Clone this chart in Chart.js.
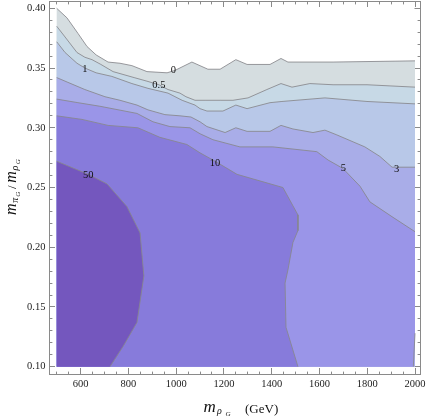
<!DOCTYPE html>
<html>
<head>
<meta charset="utf-8">
<style>
html,body{margin:0;padding:0;background:#ffffff;}
canvas{display:block;}
</style>
<script src="https://cdn.jsdelivr.net/npm/chart.js@4/dist/chart.umd.min.js"></script>
</head>
<body>
<canvas id="c" width="426" height="417"></canvas>
<script>
// ---- data ----
const xRange = [500, 2000];           // m_rhoG range of the computed grid (GeV)
const yRange = [0.10, 0.40];          // m_piG / m_rhoG range
const levels = ['0', '0.5', '1', '3', '5', '10', '50'];

const c0 = [[500,0.400],[543,0.392],[589,0.379],[627,0.368],[665,0.361],[715,0.355],[765,0.354],[815,0.352],[878,0.347],[962,0.346],[995,0.348],[1066,0.355],[1133,0.349],[1184,0.349],[1250,0.357],[1297,0.353],[1393,0.353],[1439,0.358],[1468,0.355],[1657,0.355],[2000,0.356]];
const c05 = [[500,0.385],[535,0.376],[585,0.363],[618,0.359],[648,0.357],[685,0.353],[736,0.347],[824,0.342],[878,0.339],[928,0.336],[966,0.332],[1016,0.329],[1041,0.326],[1079,0.323],[1121,0.323],[1184,0.323],[1238,0.323],[1301,0.325],[1380,0.332],[1439,0.337],[1485,0.334],[1560,0.337],[1657,0.336],[1799,0.336],[2000,0.334]];
const c1 = [[500,0.372],[535,0.363],[585,0.354],[618,0.350],[665,0.346],[731,0.343],[815,0.337],[882,0.333],[966,0.329],[1025,0.323],[1079,0.319],[1100,0.316],[1129,0.314],[1196,0.314],[1250,0.319],[1297,0.316],[1393,0.321],[1443,0.322],[1623,0.325],[1799,0.322],[2000,0.320]];
const c3 = [[500,0.342],[547,0.338],[618,0.332],[702,0.326],[765,0.323],[836,0.319],[882,0.315],[953,0.311],[1016,0.310],[1062,0.309],[1100,0.305],[1129,0.301],[1205,0.296],[1250,0.300],[1297,0.297],[1393,0.297],[1439,0.302],[1489,0.299],[1573,0.296],[1623,0.298],[1673,0.294],[1790,0.284],[1853,0.276],[1904,0.267],[2000,0.267]];
const c5 = [[500,0.324],[589,0.321],[681,0.318],[836,0.312],[903,0.305],[974,0.301],[1058,0.300],[1100,0.295],[1154,0.290],[1267,0.284],[1405,0.284],[1589,0.280],[1636,0.273],[1698,0.266],[1770,0.251],[1811,0.238],[1908,0.225],[2000,0.213]];
const c5b = [[2000,0.128],[1993,0.100]];
const c10 = [[500,0.310],[606,0.307],[715,0.302],[840,0.300],[932,0.292],[1045,0.286],[1100,0.279],[1163,0.272],[1255,0.261],[1447,0.250],[1510,0.227],[1510,0.214],[1489,0.204],[1468,0.181],[1456,0.170],[1460,0.133],[1510,0.100]];
const c50 = [[500,0.272],[632,0.261],[711,0.253],[794,0.234],[849,0.212],[865,0.176],[836,0.137],[778,0.117],[723,0.100]];

// contour labels
const labelText = ['0', '0.5', '1', '3', '5', '10', '50'];
const labelX = [988, 928, 618, 1923, 1700, 1163, 632];
const labelY = [0.3484, 0.3358, 0.3489, 0.2652, 0.2661, 0.2703, 0.2605];

// tick values
const xMajorTicks = [600, 800, 1000, 1200, 1400, 1600, 1800, 2000];
const yMajorTicks = [0.10, 0.15, 0.20, 0.25, 0.30, 0.35, 0.40];

// ---- styles ----
const regionColors = ['#d5dde0', '#c7d9e6', '#b8c8e8', '#a9ade8', '#9a95e8', '#877bdb', '#7457be'];
const lineColor = 'rgba(135,135,140,0.85)';
const frameColor = '#8a8a8a';
const serif = '"Liberation Serif", "Times New Roman", serif';

const toPts = arr => arr.map(p => ({x: p[0], y: p[1]}));
const bottomRight = [xRange[1], yRange[0]];
const bottomLeft = [xRange[0], yRange[0]];

const regions = [
  c0.concat([bottomRight, bottomLeft]),
  c05.concat([bottomRight, bottomLeft]),
  c1.concat([bottomRight, bottomLeft]),
  c3.concat([bottomRight, bottomLeft]),
  c5.concat(c5b, [bottomLeft]),
  c10.concat([bottomLeft]),
  c50.concat([bottomLeft])
];
const contours = [c0, c05, c1, c3, c5, c5b, c10, c50];

const datasets = [];
regions.forEach((poly, i) => {
  datasets.push({
    label: 'level ≥ ' + levels[i],
    data: toPts(poly),
    fill: 'shape',
    backgroundColor: regionColors[i],
    borderColor: 'rgba(0,0,0,0)',
    borderWidth: 0,
    pointRadius: 0,
    tension: 0,
    order: 50 - i
  });
});
contours.forEach((c, i) => {
  datasets.push({
    label: 'contour ' + i,
    data: toPts(c),
    fill: false,
    borderColor: lineColor,
    borderWidth: 1,
    pointRadius: 0,
    tension: 0,
    order: 1
  });
});

// axis extents (frame padding around the grid range, as in the picture)
const xMin = 467.8, xMax = 2023;
const yMin = 0.09389, yMax = 0.40611;

const isXMajor = v => xMajorTicks.some(t => Math.abs(t - v) < 1e-6);
const isYMajor = v => yMajorTicks.some(t => Math.abs(t - v) < 1e-6);

function makeScale(axis, position, size) {
  const horizontal = axis === 'x';
  const major = horizontal ? isXMajor : isYMajor;
  // ticks drawn inward; for left/top the tick line starts inside the frame
  const startsInside = (position === 'left' || position === 'top');
  return {
    type: 'linear',
    position: position,
    min: horizontal ? xMin : yMin,
    max: horizontal ? xMax : yMax,
    bounds: 'ticks',
    border: {display: true, color: frameColor, width: 1},
    grid: {
      drawOnChartArea: false,
      drawTicks: true,
      tickLength: -6,
      tickColor: frameColor,
      tickWidth: 1,
      tickBorderDash: ctx => {
        if (!ctx.tick || major(ctx.tick.value)) return [];
        return startsInside ? [0, 2.6, 3.4, 40] : [3.4, 40];
      }
    },
    ticks: {
      stepSize: horizontal ? 50 : 0.01,
      autoSkip: false,
      includeBounds: false,
      maxRotation: 0,
      minRotation: 0,
      font: {family: serif, size: 10.5},
      color: '#222',
      callback: () => ''
    },
    afterFit: s => {
      if (horizontal) { s.height = size; } else { s.width = size; }
      s.paddingTop = 0; s.paddingBottom = 0; s.paddingLeft = 0; s.paddingRight = 0;
    }
  };
}

const scales = {
  x: makeScale('x', 'bottom', 43),
  x2: makeScale('x', 'top', 1),
  y: makeScale('y', 'left', 49),
  y2: makeScale('y', 'right', 5.5)
};
scales.x.ticks.padding = 10.0;
scales.x.ticks.callback = v => isXMajor(v) ? String(Math.round(v)) : '';
scales.y.ticks.padding = 9.6;
scales.y.ticks.callback = v => isYMajor(v) ? v.toFixed(2) : '';

const textPlugin = {
  id: 'contourText',
  afterDatasetsDraw(chart) {
    const {ctx} = chart;
    const xs = chart.scales.x, ys = chart.scales.y;
    ctx.save();
    ctx.font = '10.5px ' + serif;
    ctx.fillStyle = '#111';
    ctx.textAlign = 'center';
    ctx.textBaseline = 'middle';
    labelText.forEach((t, i) => {
      ctx.fillText(t, xs.getPixelForValue(labelX[i]), ys.getPixelForValue(labelY[i]));
    });
    ctx.restore();
  },
  afterDraw(chart) {
    const {ctx} = chart;
    ctx.save();
    ctx.fillStyle = '#111';
    ctx.textAlign = 'left';
    ctx.textBaseline = 'alphabetic';
    // x axis title: m_{rho_G} (GeV)
    ctx.font = 'italic 17px ' + serif; ctx.fillText('m', 203.5, 411.7);
    ctx.font = 'italic 10px ' + serif; ctx.fillText('ρ', 217, 413.5);
    ctx.font = 'italic 7px ' + serif;  ctx.fillText('G', 225.5, 416.3);
    ctx.font = '13px ' + serif;        ctx.fillText('(GeV)', 245, 412.6);
    // y axis title: m_{pi_G} / m_{rho_G}
    ctx.translate(15.8, 215);
    ctx.rotate(-Math.PI / 2);
    ctx.font = 'italic 16px ' + serif; ctx.fillText('m', 0, 0);
    ctx.font = 'italic 10px ' + serif; ctx.fillText('π', 12.3, 2);
    ctx.font = 'italic 7px ' + serif;  ctx.fillText('G', 18.3, 4.4);
    ctx.font = '13px ' + serif;        ctx.fillText('/', 26, 0);
    ctx.font = 'italic 16px ' + serif; ctx.fillText('m', 32.3, 0);
    ctx.font = 'italic 10px ' + serif; ctx.fillText('ρ', 44.5, 2);
    ctx.font = 'italic 7px ' + serif;  ctx.fillText('G', 50.8, 4.4);
    ctx.restore();
  }
};

new Chart(document.getElementById('c'), {
  type: 'line',
  data: {datasets: datasets},
  options: {
    responsive: false,
    animation: false,
    devicePixelRatio: 1,
    layout: {padding: 0},
    plugins: {
      legend: {display: false},
      tooltip: {enabled: false},
      title: {display: false}
    },
    scales: scales
  },
  plugins: [textPlugin]
});
</script>
</body>
</html>
